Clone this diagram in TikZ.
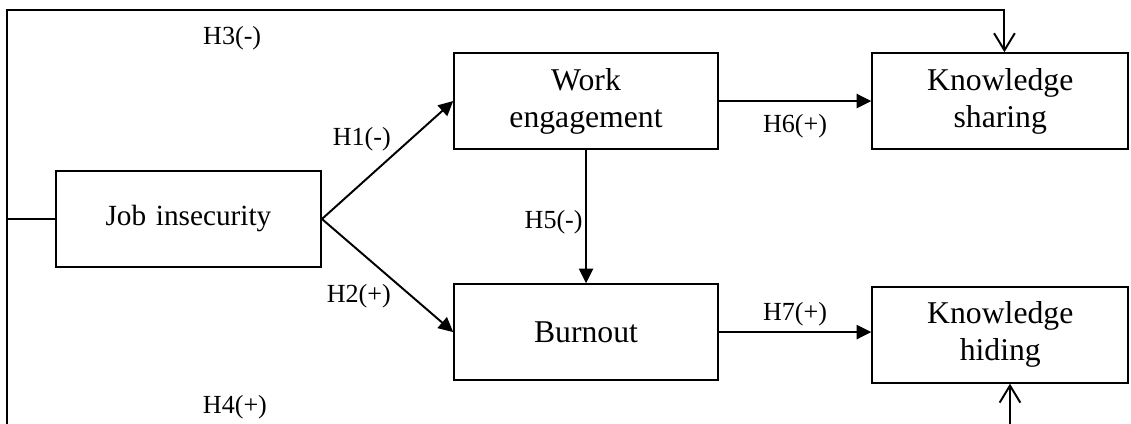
\documentclass[tikz,border=0pt]{standalone}
\usepackage{fontspec}
\setmainfont{Liberation Serif}
\usetikzlibrary{arrows,arrows.meta,calc}

\begin{document}
\begin{tikzpicture}[node distance=3.33cm]
    \tikzstyle{block} = [rectangle, minimum height=1.38cm, minimum width=3.80cm, inner sep=0pt, text centered, text width=3.4cm, draw=black, thick, font=\fontsize{13}{15.2}\selectfont]
    \tikzstyle{arrow} = [thick, -{Triangle[length=6pt,width=5.8pt]}]
    \tikzstyle{open} = [thick, -{Straight Barb[length=7pt,width=8.5pt]}]
    \tikzstyle{hyp} = [inner sep=1pt, font=\fontsize{10.7}{12}\selectfont]

    \useasboundingbox (-2.716,-2.954) rectangle (13.584,3.156);

    \node (insecurity) [block, minimum width=3.82cm, font=\fontsize{12}{14}\selectfont] {Job insecurity};

    \node (engagement) [block, right of=insecurity, xshift=2.40cm, yshift=1.70cm] {Work\\engagement};

    \node (burnout) [block, below of=engagement] {Burnout};

    \node (sharing) [block, minimum width=3.69cm, right of=engagement, xshift=2.64cm] {Knowledge\\sharing};

    \node (hiding) [block, minimum width=3.69cm, below of=sharing, yshift=-0.04cm] {Knowledge\\hiding};

    \draw [arrow] (insecurity.east) -- node (h1) [hyp, pos=0.55, above left] {H1(-)} (engagement.west);
    \draw [arrow] (insecurity.east) -- node (h2) [hyp, pos=0.55, below left] {H2(+)} (burnout.west);
    \draw [arrow] (engagement) -- node (h5) [hyp, pos=0.54, left] {H5(-)} (burnout);
    \draw [arrow] (engagement.east) -- node (h6) [hyp, below=4pt] {H6(+)} (sharing.west |- engagement.east);
    \draw [arrow] (burnout.east) -- node (h7) [hyp, above=1pt] {H7(+)} (hiding.west |- burnout.east);

    % direct paths round the outside
    \draw [open] (insecurity.west) -- ++(-0.69,0) |- ($(sharing.north)+(0.06,0.61)$) -- ($(sharing.north)+(0.06,0)$);
    \draw [open] (insecurity.west) -- ++(-0.69,0) |- ($(hiding.south)+(0.14,-0.75)$) -- ($(hiding.south)+(0.14,0)$);

    \node (h3) [hyp] at (0.63,2.61) {H3(-)};
    \node (h4) [hyp] at (0.67,-2.72) {H4(+)};

\end{tikzpicture}
\end{document}
